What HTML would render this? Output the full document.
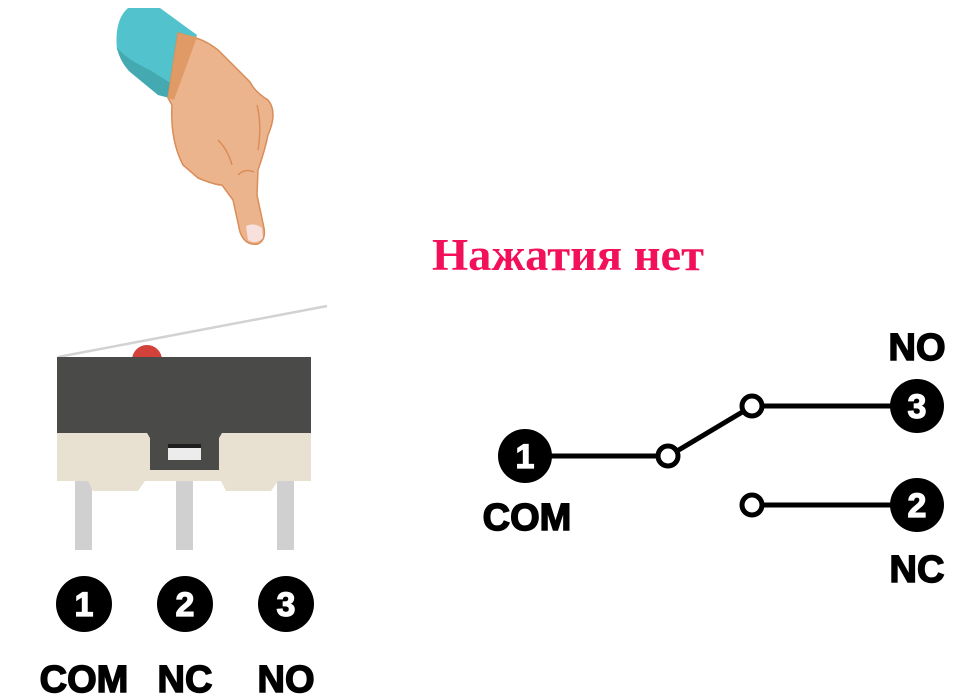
<!DOCTYPE html>
<html><head><meta charset="utf-8"><style>
html,body{margin:0;padding:0;background:#fff;}
svg{display:block;}
text{font-family:"Liberation Sans",sans-serif;font-weight:bold;}
</style></head><body>
<svg width="980" height="700" viewBox="0 0 980 700" xmlns="http://www.w3.org/2000/svg">
<!-- hand -->
<g>
<path d="M128,8 Q114,20 117,50 L158,95 L170,98 L197,35 L160,8 Z" fill="#52c3cc"/>
<path d="M117,48 Q120,62 130,72 L158,95 L170,98 L172,84 L150,70 Q128,60 117,48 Z" fill="#44a9b1"/>
<path d="M178,33 L168,98 L172,105 Q170,140 183,165 L198,178 Q215,185 222,185 L233,200 L240,232 Q245,246 258,244 Q266,240 264,228 L257,195 L258,170 Q265,150 268,135 Q278,112 268,100 Q255,92 250,82 L218,50 Q205,40 195,38 Z" fill="#ecb48c" stroke="#d98d58" stroke-width="1.5"/>
<path d="M178,33 L197,37 L174,100 L168,98 Z" fill="#e09a66"/>
<path d="M246,226 Q255,222 262,228 L263,238 Q256,245 248,240 Z" fill="#f8e0dc"/>
<path d="M238,175 Q245,168 254,172 M218,140 Q228,150 232,165 M257,105 Q262,125 258,150" fill="none" stroke="#d98d58" stroke-width="1.5"/>
</g>
<text x="432" y="270" font-size="45" fill="#f2105a" textLength="272" lengthAdjust="spacingAndGlyphs" style="font-family:'Liberation Serif',serif">Нажатия нет</text>
<!-- switch -->
<line x1="58" y1="357" x2="327" y2="306" stroke="#d2d2d2" stroke-width="2.5"/>
<circle cx="147" cy="360" r="15" fill="#d2413a"/>
<rect x="75" y="480" width="17" height="70" fill="#d0d0d0"/>
<rect x="176" y="480" width="17" height="70" fill="#d0d0d0"/>
<rect x="277" y="480" width="17" height="70" fill="#d0d0d0"/>
<rect x="57" y="433" width="254" height="48" fill="#e8e1d2"/>
<path d="M88,481 L145,481 L138,491 L93,491 Z M221,481 L278,481 L271,491 L226,491 Z" fill="#e8e1d2"/>
<rect x="57" y="357" width="254" height="76" fill="#4a4a48"/>
<path d="M147,433 L150,438 L150,470 L219,470 L219,438 L222,433 Z" fill="#4a4a48"/>
<rect x="168" y="444" width="33" height="4" fill="#1e1e1e"/>
<rect x="168" y="448" width="33" height="12" fill="#ececec"/>
<!-- left numbers -->
<g fill="#000"><circle cx="84" cy="604" r="28"/><circle cx="185" cy="604" r="28"/><circle cx="286" cy="604" r="28"/></g>
<g fill="#fff" stroke="#fff" stroke-width="1.2" font-size="34" text-anchor="middle"><text x="84" y="616">1</text><text x="185" y="616">2</text><text x="286" y="616">3</text></g>
<g fill="#000" stroke="#000" stroke-width="1.5" font-size="38" text-anchor="middle"><text x="84" y="692">COM</text><text x="185" y="692">NC</text><text x="286" y="692">NO</text></g>
<!-- schematic -->
<g stroke="#000" stroke-width="5" fill="none">
<line x1="525" y1="456" x2="658" y2="456"/>
<line x1="677" y1="451" x2="744" y2="411"/>
<line x1="762" y1="406" x2="917" y2="406"/>
<line x1="762" y1="505" x2="917" y2="505"/>
<circle cx="668" cy="456" r="10" fill="#fff"/>
<circle cx="752" cy="406" r="10" fill="#fff"/>
<circle cx="752" cy="505" r="10" fill="#fff"/>
</g>
<g fill="#000"><circle cx="525" cy="456" r="27"/><circle cx="917" cy="406" r="27"/><circle cx="917" cy="505" r="27"/></g>
<g fill="#fff" stroke="#fff" stroke-width="1.2" font-size="34" text-anchor="middle"><text x="525" y="468">1</text><text x="917" y="418">3</text><text x="917" y="517">2</text></g>
<g fill="#000" stroke="#000" stroke-width="1.5" font-size="38" text-anchor="middle"><text x="527" y="530">COM</text><text x="917" y="360">NO</text><text x="917" y="582">NC</text></g>
</svg>
</body></html>
